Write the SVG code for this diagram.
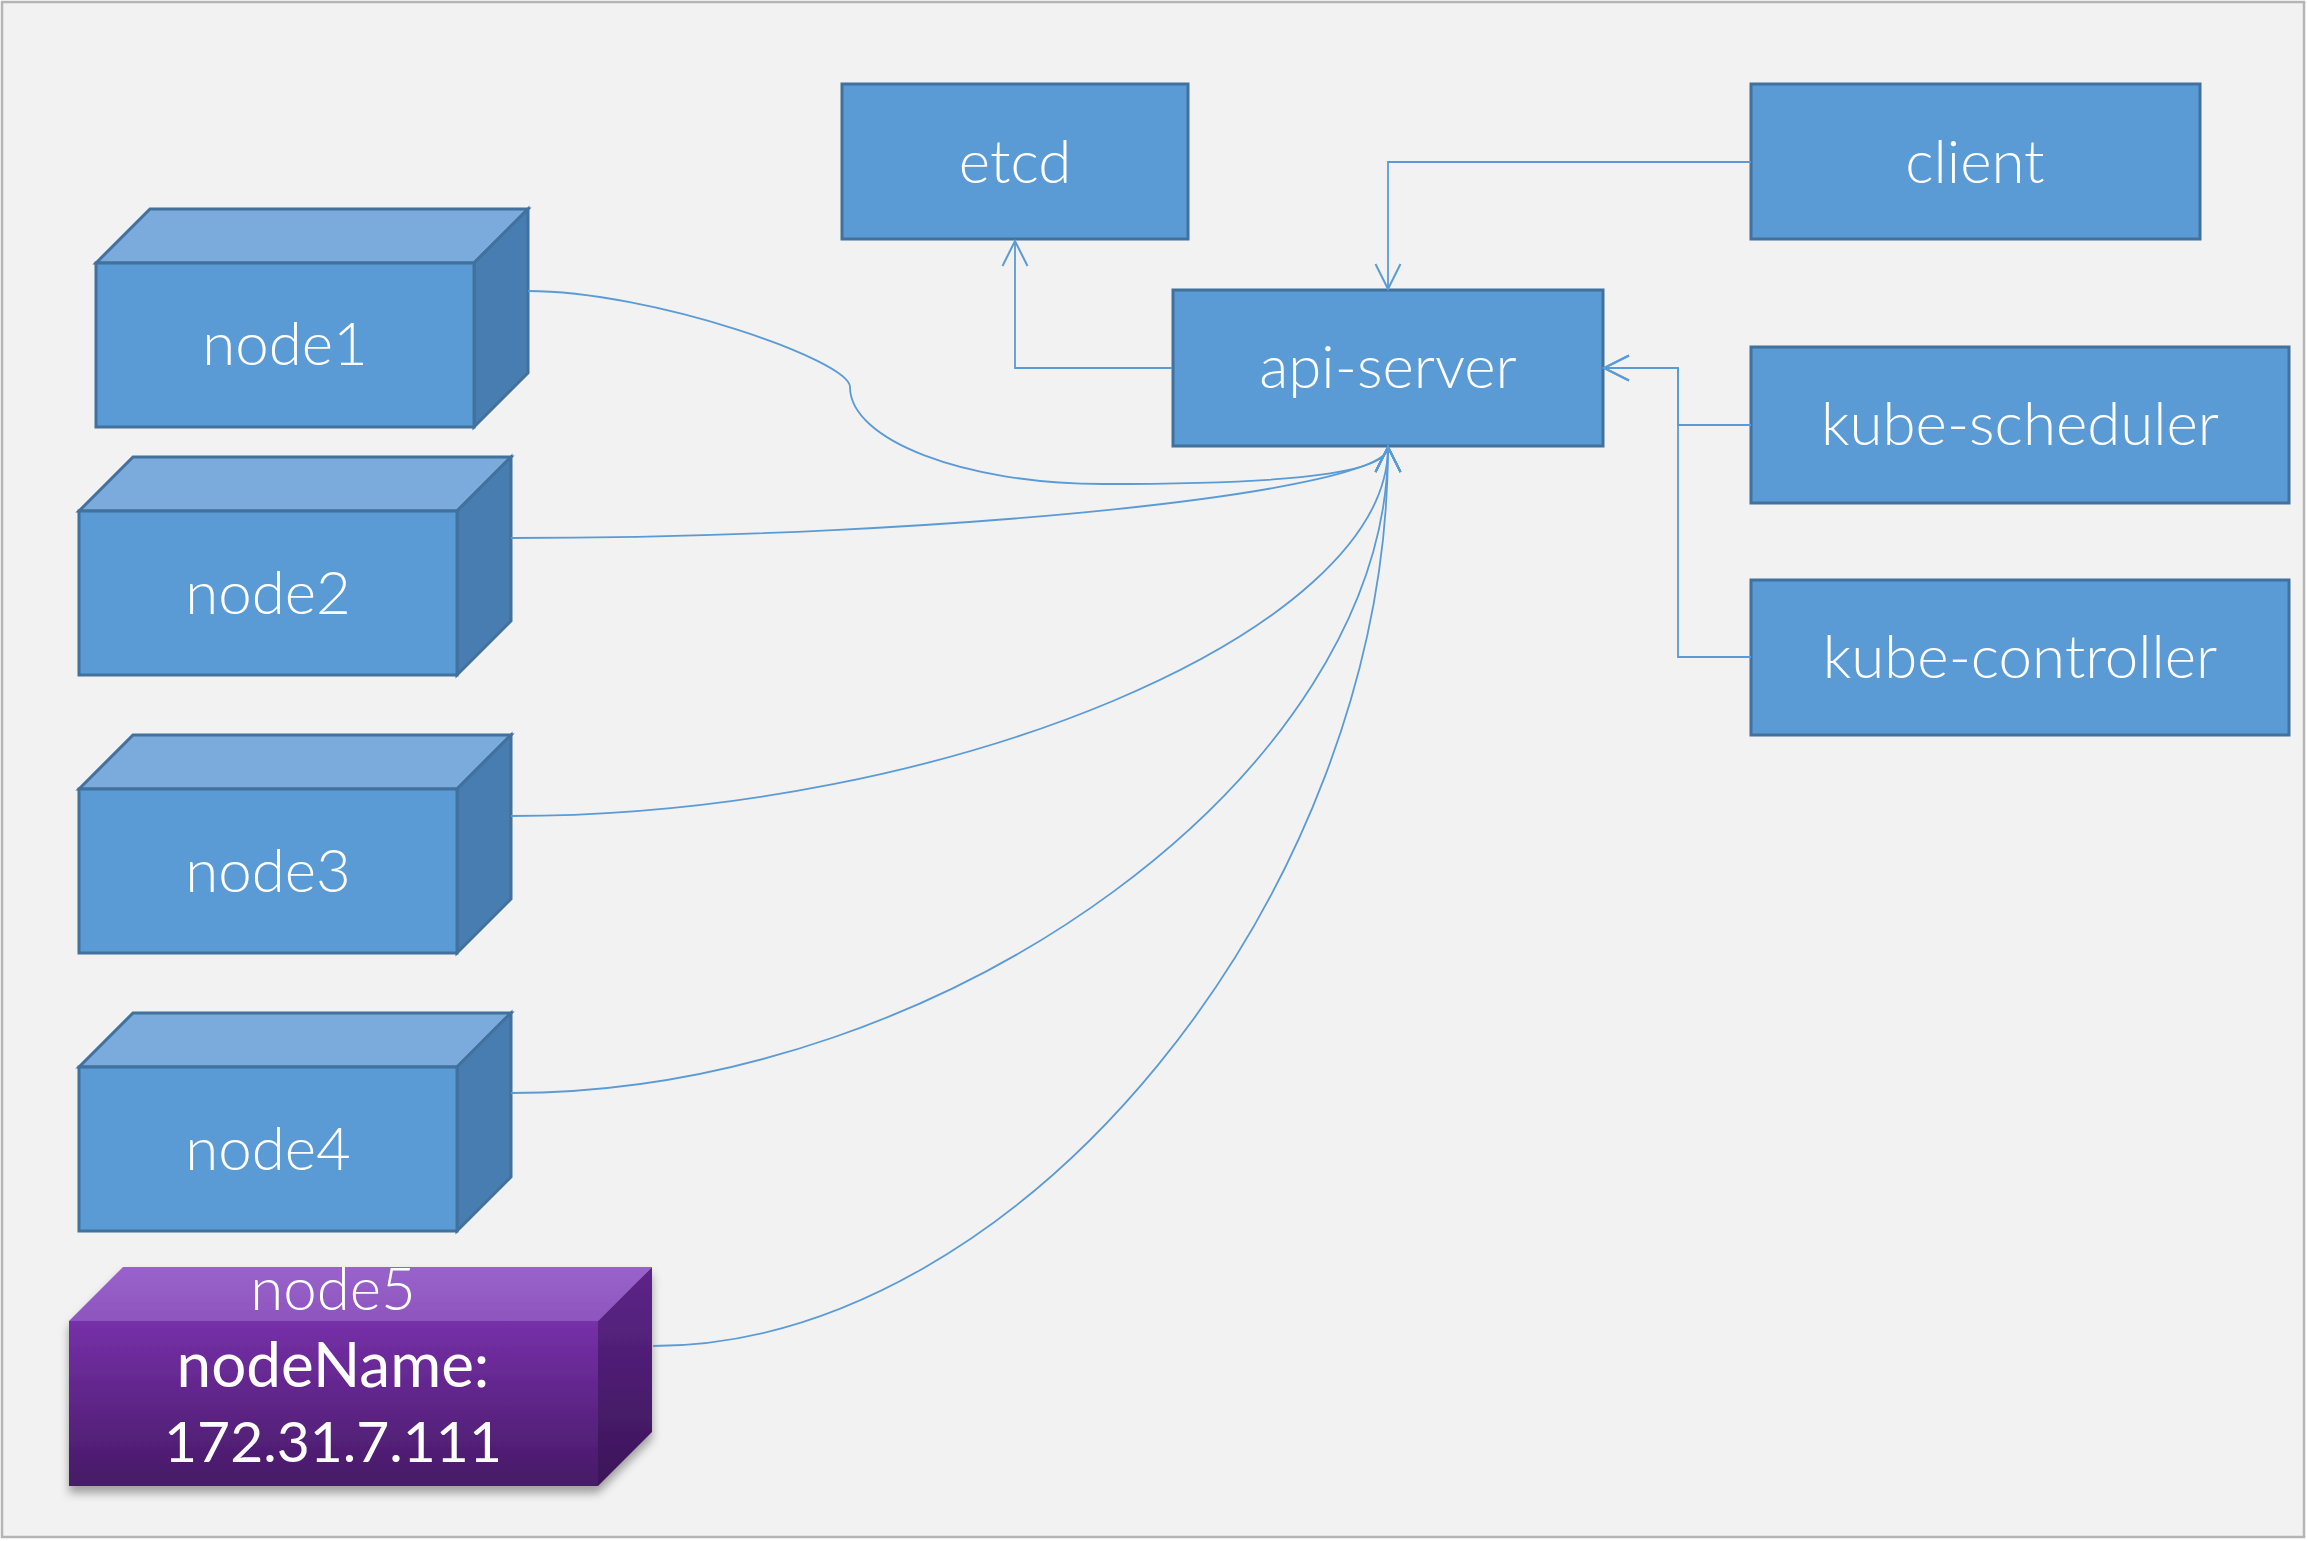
<svg xmlns="http://www.w3.org/2000/svg" width="2307" height="1541" viewBox="0 0 2307 1541">
<defs>
<style>
.box{fill:#5b9bd5;stroke:#41719c;stroke-width:3}
.front{fill:#5b9bd5;stroke:#41719c;stroke-width:3;stroke-linejoin:miter}
.top{fill:#7aabdc;stroke:#41719c;stroke-width:3;stroke-linejoin:miter}
.side{fill:#477db0;stroke:#41719c;stroke-width:3;stroke-linejoin:miter}
.lbl{font-family:Lato,"Open Sans","Liberation Sans",sans-serif;font-weight:300;font-size:60px;fill:#ffffff;text-anchor:middle}
.con{fill:none;stroke:#5b9bd5;stroke-width:1.8}
</style>
<marker id="arr" markerUnits="userSpaceOnUse" markerWidth="30" markerHeight="30" viewBox="-27 -15 30 30" refX="0" refY="0" orient="auto">
<path d="M-25,-12.5 L0,0 L-25,12.5" fill="none" stroke="#5b9bd5" stroke-width="2"/>
</marker>
<linearGradient id="pFront" x1="0" y1="0" x2="0" y2="1">
<stop offset="0" stop-color="#7630a8"/>
<stop offset="1" stop-color="#461a66"/>
</linearGradient>
<linearGradient id="pTop" x1="0" y1="0" x2="0" y2="1">
<stop offset="0" stop-color="#9a62cc"/>
<stop offset="1" stop-color="#8d55bd"/>
</linearGradient>
<linearGradient id="pSide" x1="0" y1="0" x2="0" y2="1">
<stop offset="0" stop-color="#5e258a"/>
<stop offset="1" stop-color="#3b1558"/>
</linearGradient>
<filter id="shadow" x="-10%" y="-10%" width="120%" height="130%">
<feDropShadow dx="0" dy="7" stdDeviation="5" flood-color="#000000" flood-opacity="0.35"/>
</filter>
</defs>
<rect x="2" y="2" width="2302" height="1535" fill="#f2f2f2" stroke="#b5b5b5" stroke-width="2.5"/>

<g id="etcd">
<rect class="box" x="842" y="84" width="346" height="155"/>
<text class="lbl" x="1015" y="183">etcd</text>
</g>
<g id="client">
<rect class="box" x="1751" y="84" width="449" height="155"/>
<text class="lbl" x="1975" y="183">client</text>
</g>
<g id="api-server">
<rect class="box" x="1173" y="290" width="430" height="156"/>
<text class="lbl" x="1388" y="388">api-server</text>
</g>
<g id="kube-scheduler">
<rect class="box" x="1751" y="347" width="538" height="156"/>
<text class="lbl" x="2020" y="445">kube-scheduler</text>
</g>
<g id="kube-controller">
<rect class="box" x="1751" y="580" width="538" height="155"/>
<text class="lbl" x="2020" y="678">kube-controller</text>
</g>

<g id="node1">
<polygon class="top" points="96,263 150,209 528,209 474,263"/>
<polygon class="side" points="474,263 528,209 528,373 474,427"/>
<rect class="front" x="96" y="263" width="378" height="164"/>
<text class="lbl" x="285" y="365">node1</text>
</g>
<g id="node2">
<polygon class="top" points="79,511 133,457 511,457 457,511"/>
<polygon class="side" points="457,511 511,457 511,621 457,675"/>
<rect class="front" x="79" y="511" width="378" height="164"/>
<text class="lbl" x="268" y="614">node2</text>
</g>
<g id="node3">
<polygon class="top" points="79,789 133,735 511,735 457,789"/>
<polygon class="side" points="457,789 511,735 511,899 457,953"/>
<rect class="front" x="79" y="789" width="378" height="164"/>
<text class="lbl" x="268" y="892">node3</text>
</g>
<g id="node4">
<polygon class="top" points="79,1067 133,1013 511,1013 457,1067"/>
<polygon class="side" points="457,1067 511,1013 511,1177 457,1231"/>
<rect class="front" x="79" y="1067" width="378" height="164"/>
<text class="lbl" x="268" y="1170">node4</text>
</g>
<g id="node5">
<g filter="url(#shadow)">
<polygon points="69,1321 123,1267 652,1267 598,1321" fill="url(#pTop)"/>
<polygon points="598,1321 652,1267 652,1432 598,1486" fill="url(#pSide)"/>
<rect x="69" y="1321" width="529" height="165" fill="url(#pFront)"/>
</g>
<text class="lbl" x="333" y="1310">node5</text>
<text class="lbl" x="333" y="1387" style="font-weight:400;font-size:62px">nodeName:</text>
<text class="lbl" x="333" y="1462" style="font-weight:400;font-size:57px">172.31.7.111</text>
</g>

<g id="connectors">
<path class="con" d="M1172,368 H1015 V241" marker-end="url(#arr)"/>
<path class="con" d="M1751,162 H1388 V289" marker-end="url(#arr)"/>
<path class="con" d="M1751,425 H1678 V368 H1604" marker-end="url(#arr)"/>
<path class="con" d="M1751,657 H1678 V368 H1604" marker-end="url(#arr)"/>
<path class="con" d="M528,291 C650,291 850,360 850,387 C850,440 964,484 1103,484 C1250,484 1388,478 1388,447" marker-end="url(#arr)"/>
<path class="con" d="M511,538 C950,538 1388,492 1388,447" marker-end="url(#arr)"/>
<path class="con" d="M511,816 C950,816 1388,631 1388,447" marker-end="url(#arr)"/>
<path class="con" d="M511,1093 C950,1093 1388,770 1388,447" marker-end="url(#arr)"/>
<path class="con" d="M653,1346 C1020,1346 1388,896 1388,447" marker-end="url(#arr)"/>
</g>
</svg>
